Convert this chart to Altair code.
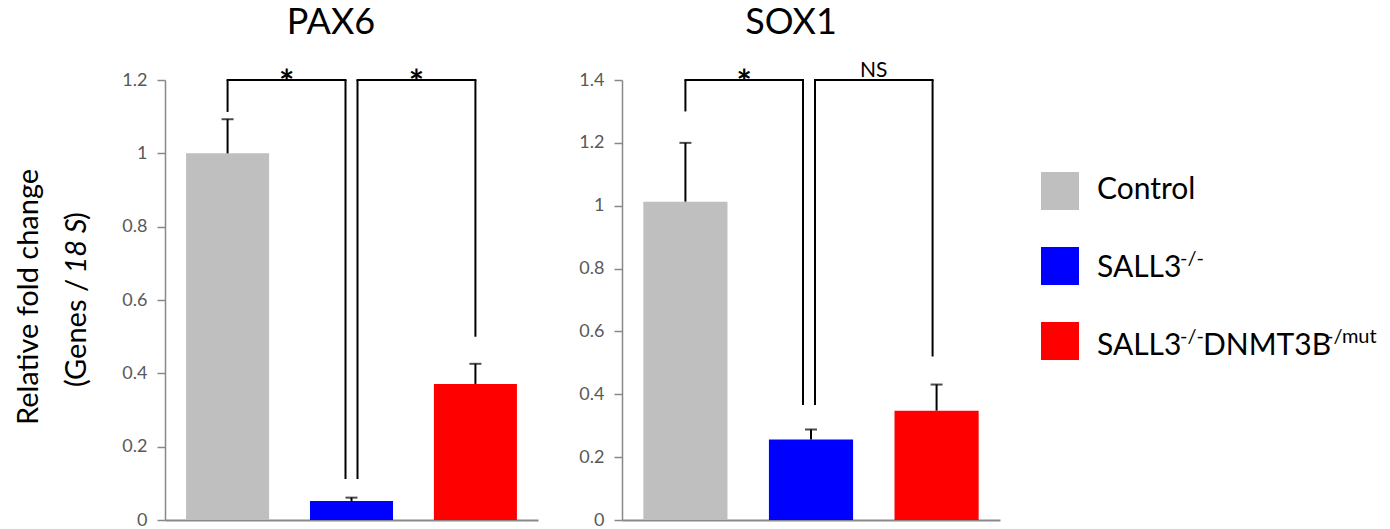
import altair as alt
import pandas as pd

# ---------------- data ----------------
groups = ["Control", "SALL3-/-", "SALL3-/-DNMT3B-/mut"]
bar_colors = ["#BFBFBF", "#0000FF", "#FF0000"]

pax6_mean = [1.000, 0.052, 0.371]
pax6_upper = [1.093, 0.061, 0.426]
sox1_mean = [1.013, 0.256, 0.348]
sox1_upper = [1.200, 0.288, 0.431]

pax6_ticks = [0, 0.2, 0.4, 0.6, 0.8, 1.0, 1.2]
sox1_ticks = [0, 0.2, 0.4, 0.6, 0.8, 1.0, 1.2, 1.4]

# significance brackets
pax6_br_from = ["Control", "SALL3-/-"]
pax6_br_to = ["SALL3-/-", "SALL3-/-DNMT3B-/mut"]
pax6_br_top = [1.2, 1.2]
pax6_br_from_end = [1.113, 0.112]
pax6_br_to_end = [0.112, 0.500]
pax6_br_label = ["*", "*"]

sox1_br_from = ["Control", "SALL3-/-"]
sox1_br_to = ["SALL3-/-", "SALL3-/-DNMT3B-/mut"]
sox1_br_top = [1.4, 1.4]
sox1_br_from_end = [1.300, 0.366]
sox1_br_to_end = [0.366, 0.520]
sox1_br_label = ["*", "NS"]

panel_titles = ["PAX6", "SOX1"]
ytitle_line1 = "Relative fold change"
ytitle_line2 = ["(Genes /", "18 S", ")"]

legend_main = ["Control", "SALL3", "SALL3"]
legend_sup = ["", "-/-", "-/-"]
legend_main2 = ["", "", "DNMT3B"]
legend_sup2 = ["", "", "-/mut"]

# ---------------- style ----------------
FONT = "Lato"
AXIS_GRAY = "#888888"
LABEL_GRAY = "#595959"
PLOT_H = 440


def panel(title, means, uppers, ticks, ymax, br_from, br_to, br_top, br_from_end,
          br_to_end, br_label, br_offsets, width, title_x, extra=None):
    df = pd.DataFrame({"group": groups, "mean": means, "upper": uppers})
    xs = alt.Scale(domain=groups, paddingInner=0.33, paddingOuter=0.17)
    ys = alt.Scale(domain=[0, ymax], nice=False, zero=True)
    xaxis = alt.Axis(title=None, labels=False, ticks=False, domain=True,
                     domainColor=AXIS_GRAY, domainWidth=2, grid=False)
    yaxis = alt.Axis(title=None, values=ticks, format="~g", labelFont=FONT,
                     labelFontSize=18, labelColor=LABEL_GRAY, labelPadding=10,
                     tickColor=AXIS_GRAY, tickSize=8, tickWidth=1.5,
                     domainColor=AXIS_GRAY, domainWidth=1.5, grid=False)
    X = alt.X("group:N", scale=xs, axis=xaxis, sort=groups)
    base = alt.Chart(df)
    bars = base.mark_bar().encode(
        x=X,
        y=alt.Y("mean:Q", scale=ys, axis=yaxis),
        color=alt.Color("group:N", scale=alt.Scale(domain=groups, range=bar_colors), legend=None),
    )
    err = base.mark_rule(color="black", strokeWidth=2).encode(
        x=X, y=alt.Y("mean:Q", scale=ys), y2="upper:Q")
    cap = base.mark_tick(color="black", size=12, thickness=2).encode(
        x=X, y=alt.Y("upper:Q", scale=ys))
    layers = [bars, err, cap]
    step = width / (3 - 0.33 + 2 * 0.17)
    for i in range(len(br_from)):
        lo, ro = br_offsets[i]
        bdf = pd.DataFrame({"a": [br_from[i]], "b": [br_to[i]], "top": [br_top[i]],
                            "a_end": [br_from_end[i]], "b_end": [br_to_end[i]],
                            "label": [br_label[i]]})
        bb = alt.Chart(bdf)
        Xa = alt.X("a:N", scale=xs, axis=xaxis, sort=groups)
        Xb = alt.X("b:N", scale=xs, axis=xaxis, sort=groups)
        Yt = alt.Y("top:Q", scale=ys)
        horiz = bb.mark_rule(color="black", strokeWidth=2, xOffset=lo, x2Offset=ro,
                             strokeCap="square").encode(x=Xa, x2=alt.X2("b"), y=Yt)
        leg_a = bb.mark_rule(color="black", strokeWidth=2, xOffset=lo).encode(
            x=Xa, y=Yt, y2=alt.Y2("a_end"))
        leg_b = bb.mark_rule(color="black", strokeWidth=2, xOffset=ro).encode(
            x=Xb, y=Yt, y2=alt.Y2("b_end"))
        is_star = br_label[i] == "*"
        txt = bb.mark_text(
            font=FONT, fontSize=36 if is_star else 21, color="black",
            fontWeight="bold" if is_star else "normal",
            baseline="alphabetic", align="center",
            dx=step / 2 + (lo + ro) / 2, dy=16 if is_star else -3,
        ).encode(x=Xa, y=Yt, text="label:N")
        layers += [horiz, leg_a, leg_b, txt]
    # panel title drawn as text above the plot
    tdf = pd.DataFrame({"t": [title]})
    ttl = alt.Chart(tdf).mark_text(font=FONT, fontSize=36, color="black", align="center",
                                   baseline="alphabetic").encode(
        x=alt.value(title_x), y=alt.value(-46), text="t:N")
    layers.append(ttl)
    if extra:
        layers += extra
    return alt.layer(*layers).properties(width=width, height=PLOT_H)


# y-axis title (two lines, second with italic part)
YT_SIZE = 29
c2 = 166
w2 = 52
yt = pd.DataFrame({"l1": [ytitle_line1], "p1": [ytitle_line2[0]],
                   "p2": [ytitle_line2[1]], "p3": [ytitle_line2[2]]})
ytb = alt.Chart(yt)
ytitle = [
    ytb.mark_text(angle=270, font=FONT, fontSize=YT_SIZE, align="center", baseline="alphabetic",
                  color="black").encode(x=alt.value(-127), y=alt.value(217), text="l1:N"),
    ytb.mark_text(angle=270, font=FONT, fontSize=YT_SIZE, align="right", baseline="alphabetic",
                  color="black").encode(x=alt.value(-79), y=alt.value(c2 + w2 / 2 + 7), text="p1:N"),
    ytb.mark_text(angle=270, font=FONT, fontSize=YT_SIZE, align="center", baseline="alphabetic",
                  fontStyle="italic", color="black").encode(x=alt.value(-79), y=alt.value(c2), text="p2:N"),
    ytb.mark_text(angle=270, font=FONT, fontSize=YT_SIZE, align="left", baseline="alphabetic",
                  color="black").encode(x=alt.value(-79), y=alt.value(c2 - w2 / 2), text="p3:N"),
]

left = panel(panel_titles[0], pax6_mean, pax6_upper, pax6_ticks, 1.2, pax6_br_from, pax6_br_to,
             pax6_br_top, pax6_br_from_end, pax6_br_to_end, pax6_br_label,
             [(0, -6), (6, 0)], 373, 166, extra=ytitle)
right = panel(panel_titles[1], sox1_mean, sox1_upper, sox1_ticks, 1.4, sox1_br_from, sox1_br_to,
              sox1_br_top, sox1_br_from_end, sox1_br_to_end, sox1_br_label,
              [(0, -8), (4, -4)], 378, 169)

# legend panel
leg_df = pd.DataFrame({"group": groups, "main": legend_main, "sup": legend_sup,
                       "main2": legend_main2, "sup2": legend_sup2})
lb = alt.Chart(leg_df)
sq = lb.mark_square(size=38 * 38, opacity=1, filled=True).encode(
    x=alt.value(20),
    y=alt.Y("group:N", sort=groups,
            scale=alt.Scale(type="point", domain=groups, range=[111, 261], padding=0), axis=None),
    color=alt.Color("group:N", scale=alt.Scale(domain=groups, range=bar_colors), legend=None),
)
ty = alt.Y("group:N", sort=groups,
           scale=alt.Scale(type="point", domain=groups, range=[119, 275], padding=0), axis=None)
LEG_SIZE = 30
SUP_SIZE = 20
leg_main = lb.mark_text(align="left", baseline="alphabetic", font=FONT, fontSize=LEG_SIZE,
                        color="black").encode(x=alt.value(57), y=ty, text="main:N")
leg_sup = lb.mark_text(align="left", baseline="alphabetic", font=FONT, fontSize=SUP_SIZE, dy=-12,
                       color="black").encode(x=alt.value(140), y=ty, text="sup:N")
leg_main2 = lb.mark_text(align="left", baseline="alphabetic", font=FONT, fontSize=LEG_SIZE,
                         color="black").encode(x=alt.value(163), y=ty, text="main2:N")
leg_sup2 = lb.mark_text(align="left", baseline="alphabetic", font=FONT, fontSize=SUP_SIZE, dy=-12,
                        color="black").encode(x=alt.value(286), y=ty, text="sup2:N")
legend = alt.layer(sq, leg_main, leg_sup, leg_main2, leg_sup2).resolve_scale(
    y="independent").properties(width=320, height=PLOT_H)

chart = alt.hconcat(left, right, legend, spacing=40).properties(
    padding={"left": 7, "top": -3, "right": 2, "bottom": 5}
).configure_view(stroke=None)
chart.save("out.html", embed_options={"renderer": "svg", "actions": False})
